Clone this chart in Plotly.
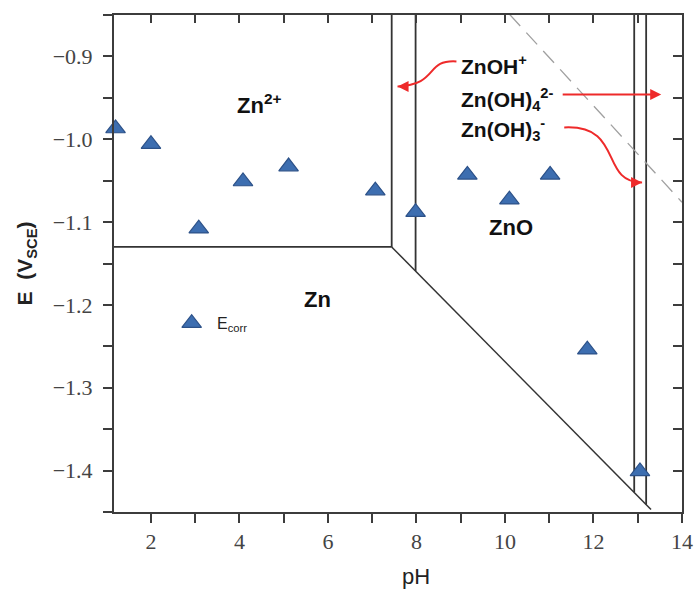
import plotly.graph_objects as go

# ---- data ----
ph_corr = [1.2, 2.0, 3.08, 4.08, 5.11, 7.07, 7.98, 9.15, 10.1, 11.02, 11.86, 13.05]
e_corr = [-0.987, -1.006, -1.108, -1.051, -1.033, -1.062, -1.088, -1.043, -1.073, -1.043, -1.254, -1.401]

legend_ph = [2.92]
legend_e = [-1.222]

# boundary lines of the Pourbaix diagram (pH, E)
zn2_ph = [1.165, 7.44]
zn2_e = [-1.13, -1.13]
v1_ph = [7.44, 7.44]
v1_e = [-1.13, -0.85]
v2_ph = [7.98, 7.98]
v2_e = [-0.85, -1.159]
diag_ph = [7.44, 13.30]
diag_e = [-1.13, -1.447]
v3_ph = [12.92, 12.92]
v3_e = [-0.85, -1.426]
v4_ph = [13.19, 13.19]
v4_e = [-0.85, -1.441]
dash_ph = [10.1, 14.0]
dash_e = [-0.849, -1.076]

x_ticks = [2, 4, 6, 8, 10, 12, 14]
y_ticks = [-0.9, -1.0, -1.1, -1.2, -1.3, -1.4]
x_range = [1.165, 14.0]
y_range = [-1.45, -0.85]

LINE = "#333333"
AX = "#3c3c3c"
RED = "#ee2a2a"

fig = go.Figure()

def add_line(xs, ys, dash="solid", color=LINE, width=1.8):
    fig.add_trace(go.Scatter(x=xs, y=ys, mode="lines",
                             line=dict(color=color, width=width, dash=dash),
                             showlegend=False, hoverinfo="skip", cliponaxis=True))

add_line(zn2_ph, zn2_e)
add_line(v1_ph, v1_e)
add_line(v2_ph, v2_e)
add_line(diag_ph, diag_e, width=1.5)
add_line(v3_ph, v3_e)
add_line(v4_ph, v4_e)
add_line(dash_ph, dash_e, dash="16px,9px", color="#a0a0a0", width=1.3)

marker = dict(symbol="triangle-up", size=17, color="#3d6eb0",
              line=dict(color="#2c5188", width=1.2))
fig.add_trace(go.Scatter(x=ph_corr, y=e_corr, mode="markers", marker=marker,
                         showlegend=False, cliponaxis=False))
fig.add_trace(go.Scatter(x=legend_ph, y=legend_e, mode="markers", marker=marker,
                         showlegend=False))

# invisible trace for the mirrored inner-tick axes
fig.add_trace(go.Scatter(x=[None], y=[None], xaxis="x2", yaxis="y2",
                         showlegend=False, hoverinfo="skip"))

# curved red arrows (paths in data coordinates)
arrow1 = [(8.903, -0.906), (8.181, -0.9036), (8.519, -0.9338), (7.572, -0.9362)]
arrow3 = [(11.339, -0.9857), (12.693, -0.9821), (12.129, -1.0522), (13.098, -1.0522)]
arrow2 = [(11.27, -0.946), (13.53, -0.946)]

def bez(p):
    return "M {} {} C {} {}, {} {}, {} {}".format(p[0][0], p[0][1], p[1][0], p[1][1],
                                                  p[2][0], p[2][1], p[3][0], p[3][1])

for p in (arrow1, arrow3):
    fig.add_shape(type="path", path=bez(p), xref="x", yref="y",
                  line=dict(color=RED, width=2))

annots = []
annots.append(dict(x=arrow1[3][0], y=arrow1[3][1], ax=10, ay=0, xref="x", yref="y",
                   text="", showarrow=True, arrowhead=2, arrowsize=1.1,
                   arrowwidth=2, arrowcolor=RED, standoff=0))
annots.append(dict(x=arrow3[3][0], y=arrow3[3][1], ax=-10, ay=0, xref="x", yref="y",
                   text="", showarrow=True, arrowhead=2, arrowsize=1.1,
                   arrowwidth=2, arrowcolor=RED, standoff=0))
annots.append(dict(x=arrow2[1][0], y=arrow2[1][1], ax=arrow2[0][0], ay=arrow2[0][1],
                   axref="x", ayref="y", xref="x", yref="y",
                   text="", showarrow=True, arrowhead=2, arrowsize=1.1,
                   arrowwidth=2, arrowcolor=RED, standoff=0))

label_font = dict(family="Liberation Sans, Arial, sans-serif", size=21, color="#111")
labels = [
    ("<b>Zn<sup>2+</sup></b>", 4.45, -0.957, 22),
    ("<b>ZnOH<sup>+</sup></b>", 9.75, -0.91, 21),
    ("<b>Zn(OH)<sub>4</sub><sup>2-</sup></b>", 10.05, -0.952, 21),
    ("<b>Zn(OH)<sub>3</sub><sup>-</sup></b>", 9.96, -0.988, 21),
    ("<b>ZnO</b>", 10.14, -1.107, 22),
    ("<b>Zn</b>", 5.77, -1.193, 22),
]
for t, x, y, s in labels:
    annots.append(dict(x=x, y=y, xref="x", yref="y", text=t, showarrow=False,
                       font=dict(label_font, size=s)))
annots.append(dict(x=3.45, y=-1.224, xref="x", yref="y", text="E<sub>corr</sub>",
                   xanchor="left", showarrow=False,
                   font=dict(family="Liberation Sans, Arial, sans-serif", size=16, color="#222")))
# x-axis title (placed under pH 8 as in the original)
annots.append(dict(x=8.0, y=-0.13, xref="x", yref="paper", text="pH", showarrow=False,
                   yanchor="middle",
                   font=dict(family="Liberation Sans, Arial, sans-serif", size=22, color="#222")))

tick_font = dict(family="Liberation Serif, Times New Roman, serif", size=22, color="#444444")

fig.update_layout(
    width=695, height=590,
    margin=dict(l=114, r=13, t=15, b=78),
    paper_bgcolor="white", plot_bgcolor="white",
    showlegend=False,
    annotations=annots,
    xaxis=dict(range=x_range, tickvals=x_ticks, ticks="outside", ticklen=9,
               tickwidth=1.5, tickcolor=AX, showline=True, linecolor=AX, linewidth=2,
               mirror=True, showgrid=False, zeroline=False, tickfont=tick_font,
               automargin=False,
               minor=dict(dtick=1, tick0=0, ticks="outside", ticklen=9, tickwidth=1.5,
                          tickcolor=AX, showgrid=False)),
    yaxis=dict(range=y_range, tickvals=y_ticks, tickformat=".1f", ticks="outside", ticklen=9,
               tickwidth=1.5, tickcolor=AX, showline=True, linecolor=AX, linewidth=2,
               mirror=True, showgrid=False, zeroline=False, tickfont=tick_font,
               automargin=False, ticklabelstandoff=6,
               minor=dict(dtick=0.05, tick0=0, ticks="outside", ticklen=9, tickwidth=1.5,
                          tickcolor=AX, showgrid=False),
               title=dict(text="<b>E  (V<sub>SCE</sub>)</b>", standoff=14,
                          font=dict(family="Liberation Sans, Arial, sans-serif", size=21, color="#222"))),
    xaxis2=dict(range=x_range, overlaying="x", side="top", anchor="y2", dtick=1, tick0=0,
                ticks="inside", ticklen=8, tickwidth=1.5, tickcolor=AX, automargin=False,
                showticklabels=False, showgrid=False, zeroline=False, showline=False),
    yaxis2=dict(range=y_range, overlaying="y", side="right", anchor="x2", dtick=0.05, tick0=0,
                ticks="inside", ticklen=9, tickwidth=1.5, tickcolor=AX, automargin=False,
                showticklabels=False, showgrid=False, zeroline=False, showline=False),
)

fig.write_html("out.html", config={"displayModeBar": False},
               post_script="document.body.style.margin='0';document.body.style.padding='0';")
